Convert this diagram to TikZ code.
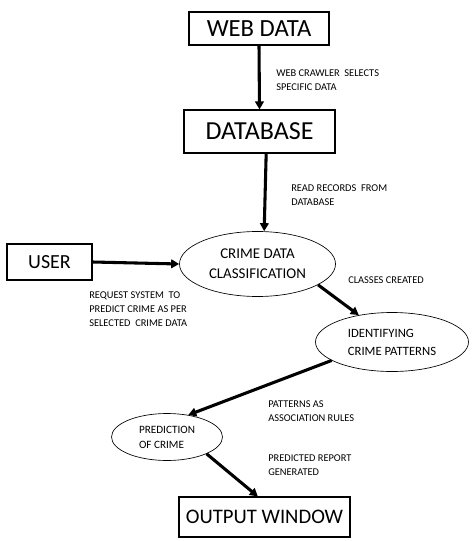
\documentclass[tikz,border=0pt]{standalone}
\usepackage{fontspec}
\setmainfont{Carlito}
\usetikzlibrary{arrows.meta,positioning,shapes.geometric,calc}

\begin{document}
\begin{tikzpicture}[
    x=0.75pt, y=-0.75pt,
    flowbox/.style={
      draw=black,
      line width=0.8pt,
      rectangle,
      inner sep=0pt
    },
    flowcell/.style={
      draw=black,
      line width=0.5pt,
      ellipse,
      inner sep=0pt,
      align=left
    },
    flowarrow/.style={
      line width=2.3pt,
      -{Triangle[length=6pt,width=6.5pt]}
    },
    flownote/.style={
      anchor=north west,
      inner sep=0pt,
      align=left,
      font=\fontsize{7.8}{10.5}\selectfont
    }]

    \useasboundingbox (0,0) rectangle (474,541);

    % Boxes
    \node[flowbox,minimum width=105pt,minimum height=24.75pt,
          font=\fontsize{18.5}{20}\selectfont] (web) at (259,28.5) {WEB DATA};
    \node[flowbox,minimum width=113.25pt,minimum height=32.25pt,
          font=\fontsize{19.5}{21}\selectfont] (db) at (259.5,131.5) {DATABASE};
    \node[flowbox,minimum width=63.75pt,minimum height=27pt,
          font=\fontsize{15}{17}\selectfont] (user) at (49.5,262) {USER};
    \node[flowbox,minimum width=128.25pt,minimum height=30pt,
          font=\fontsize{15.5}{17}\selectfont] (out) at (264.5,517) {OUTPUT WINDOW};

    % Processes
    \node[flowcell,align=center,minimum width=117pt,minimum height=48.75pt,
          font=\fontsize{11.2}{15}\selectfont] (cls) at (257.5,264)
          {CRIME DATA\\CLASSIFICATION};
    \node[flowcell,minimum width=114.75pt,minimum height=44.25pt,
          font=\fontsize{9.5}{13.5}\selectfont] (pat) at (392,342)
          {IDENTIFYING\\CRIME PATTERNS};
    \node[flowcell,minimum width=83.25pt,minimum height=35.25pt,
          font=\fontsize{8.4}{11.25}\selectfont] (pred) at (167,437)
          {PREDICTION\\OF CRIME};

    % Arrows
    \draw[flowarrow] (web.south) -- (db.north);
    \draw[flowarrow] ([xshift=5pt]db.south) -- ([xshift=5pt]cls.north);
    \draw[flowarrow] (user.east) -- (cls.west);
    \draw[flowarrow] (cls.-19) -- (pat.141);
    \draw[flowarrow] (pat.197) -- (pred.46);
    \draw[flowarrow] (pred.-23) -- ([xshift=-5pt]out.north);

    % Notes
    \node[flownote] (n1) at (276,69) {WEB CRAWLER\ \ SELECTS\\SPECIFIC DATA};
    \node[flownote] (n2) at (291,184) {READ RECORDS\ \ FROM\\DATABASE};
    \node[flownote] (n3) at (89,291) {REQUEST SYSTEM\ \ TO\\PREDICT CRIME AS PER\\SELECTED\ \ CRIME DATA};
    \node[flownote] (n4) at (348,276) {CLASSES CREATED};
    \node[flownote] (n5) at (268,400) {PATTERNS AS\\ASSOCIATION RULES};
    \node[flownote] (n6) at (268,454) {PREDICTED REPORT\\GENERATED};
\end{tikzpicture}
\end{document}
